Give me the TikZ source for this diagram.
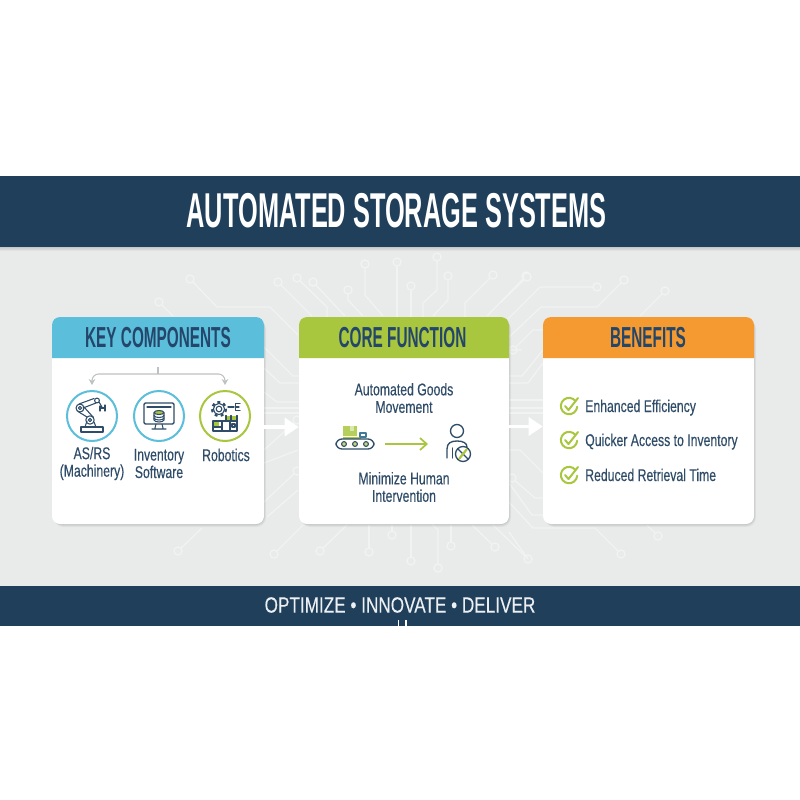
\documentclass[tikz,border=0pt]{standalone}
\usepackage{fontspec}
\usetikzlibrary{arrows.meta,calc}
\setmainfont{Liberation Sans}
\newfontfamily\titlef[FakeStretch=0.518]{Liberation Sans}
\newfontfamily\headf[FakeStretch=0.53]{Liberation Sans}
\newfontfamily\footf[FakeStretch=0.78,FakeBold=0.2]{Liberation Sans}
\newfontfamily\bodyf[FakeStretch=0.72,FakeBold=0.3]{Liberation Sans}
\definecolor{band}{HTML}{1F3F5B}
\definecolor{bgray}{HTML}{E9EAEA}
\definecolor{tracec}{HTML}{F1F2F2}
\definecolor{ink}{HTML}{24466A}
\definecolor{bodyink}{HTML}{2F4C68}
\definecolor{sky}{HTML}{5BBEDA}
\definecolor{lime}{HTML}{A9C63F}
\definecolor{amber}{HTML}{F59A30}
\definecolor{branchc}{HTML}{BDC1C2}
\def\px{0.75pt}
\tikzset{
  trace/.style={draw=tracec,line width=1pt,line join=round},
  cardbox/.style={fill=white,rounded corners=6pt,inner sep=0pt,minimum height=207*\px},
  head/.style={inner sep=0pt,text=ink,font=\headf\bfseries\fontsize{21.7}{24}\selectfont},
  bodytext/.style={inner sep=0pt,text=bodyink,align=center,font=\bodyf\fontsize{12.75}{13.1}\selectfont},
  benefit/.style={inner sep=0pt,text=bodyink,anchor=base west,font=\bodyf\fontsize{12.75}{13.1}\selectfont},
  ring/.style={circle,fill=white,inner sep=0pt,minimum size=50*\px,line width=1.5pt},
  flowarrow/.style={draw=white,line width=2.4pt,-{Triangle[length=10.5pt,width=13.5pt,fill=white]}},
  branchstem/.style={draw=branchc,line width=0.8pt},
  branch/.style={draw=branchc,line width=0.8pt,rounded corners=5pt,-{Stealth[length=4.5pt,width=5pt]}},
  iconline/.style={draw=bodyink,line width=0.8pt,line join=round,line cap=round},
  checkring/.style={draw=lime,line width=1.5pt,line cap=round},
}
\newcommand\tp[2]{\draw[trace] (#1) #2; \draw[trace,fill=bgray] (#1) circle[radius=4];}
\newcommand\softshadow[4]{%
  \foreach \o/\a in {3/.035,2/.05,1/.07}{
    \fill[black,opacity=\a,rounded corners=7pt] (#1+\o*0.7,#2+\o) rectangle (#3+\o*0.7,#4+\o);}}
\newcommand\headerfill[5]{%
  \fill[#5] (#1,#4) [rounded corners=6pt] -- (#1,#2) -- (#3,#2) [sharp corners] -- (#3,#4) -- cycle;}
\newcommand\chk[1]{%
  \coordinate (k) at (569,#1);
  \draw[checkring] ($(k)+(6.5,-5)$) arc[start angle=-38,end angle=-360+5,radius=8.2];
  \draw[checkring,line join=round] ($(k)+(-4,0)$) -- ($(k)+(-0.5,4)$) -- ($(k)+(9,-8)$);}
\begin{document}
\begin{tikzpicture}[x=0.75pt,y=-0.75pt]
\useasboundingbox (0,0) rectangle (800,800);
\fill[white] (0,0) rectangle (800,800);
% ground
\fill[bgray] (0,247) rectangle (800,586);
\shade[top color=black!22,bottom color=bgray] (0,247) rectangle (800,251);
% circuit traces
\tp{278,282}{--(312,316)}
\tp{297,278}{--(327,307)--(327,317)}
\tp{313,282}{--(345,316)}
\tp{348,290}{--(348,300)--(363,316)}
\tp{365,264}{--(365,295)--(383,316)}
\tp{397,262}{--(397,317)}
\tp{411,286}{--(411,317)}
\tp{437,257}{--(437,290)--(423,303)--(423,317)}
\tp{448,276}{--(448,300)--(433,316)}
\tp{493,275}{--(465,303)--(465,317)}
\tp{526,276}{--(487,316)}
\tp{597,287}{--(540,287)--(508,319)}
\tp{624,280}{--(597,307)--(541,307)--(508,338)}
\tp{665,291}{--(640,316)}
\tp{527,277}{--(500,303)}
\tp{190,279}{--(217,307)--(270,307)--(298,335)}
\tp{159,302}{--(173,316)}
\tp{513,350}{--(533,330)--(543,330)}
\tp{297,471}{--(264,502)}
\tp{178,551}{--(202,528)}
\tp{274,554}{--(303,525)}
\tp{320,551}{--(347,525)}
\tp{369,552}{--(369,525)}
\tp{392,535}{--(392,525)}
\tp{411,561}{--(411,525)}
\tp{438,568}{--(438,530)--(432,524)}
\tp{451,546}{--(451,525)}
\tp{495,547}{--(472,525)}
\tp{528,559}{--(493,525)}
\tp{658,536}{--(647,525)}
\tp{621,554}{--(595,528)--(533,528)--(507,500)}
\tp{512,478}{--(535,498)--(543,498)}
\tp{297,420}{--(264,450)}
\draw[trace] (264,347)--(293,376)--(299,376);
\draw[trace] (264,368)--(280,383)--(299,383);
\draw[trace] (264,392)--(277,402)--(299,402);
\draw[trace] (264,408)--(299,408) (264,413)--(299,413);
\draw[trace] (264,463)--(298,450);
\draw[trace] (267,517)--(298,490);
\draw[trace] (509,350)--(522,350) (543,350)--(522,376)--(509,376);
\draw[trace] (543,363)--(528,383)--(509,383);
\draw[trace] (509,400)--(543,400) (509,408)--(543,408) (509,413)--(543,413);
\draw[trace] (509,450)--(520,450)--(543,473);
\draw[trace] (509,483)--(532,515)--(543,515);
\draw[trace] (509,532)--(528,559);
% bands
\fill[band] (0,176) rectangle (800,247);
\fill[band] (0,586) rectangle (800,626);
\node[inner sep=0pt,text=white,font=\titlef\bfseries\fontsize{36.7}{40}\selectfont] (title) at (396.5,210.5) {AUTOMATED STORAGE SYSTEMS};
\node[inner sep=0pt,text=white!92!band,font=\footf\fontsize{16.5}{18}\selectfont] (foot) at (400,605) {OPTIMIZE • INNOVATE • DELIVER};
\draw[white,line width=0.9pt] (398.3,620)--(398.3,626) (406,620)--(406,626);
% cards
\softshadow{52}{317}{264}{524}
\softshadow{299}{317}{509}{524}
\softshadow{543}{317}{754}{524}
\node[cardbox,minimum width=212*\px] (c1) at (158,420.5) {};
\node[cardbox,minimum width=210*\px] (c2) at (404,420.5) {};
\node[cardbox,minimum width=211*\px] (c3) at (648.5,420.5) {};
\headerfill{52}{317}{264}{358}{sky}
\headerfill{299}{317}{509}{358}{lime}
\headerfill{543}{317}{754}{358}{amber}
\node[head] (h1) at (158,337.5) {KEY COMPONENTS};
\node[head] (h2) at (402.5,337.5) {CORE FUNCTION};
\node[head] (h3) at (648,337.5) {BENEFITS};
% flow arrows
\draw[flowarrow] ($(c1.east)+(0,6.5)$) -- ($(c2.west)+(0,6.5)$);
\draw[flowarrow] ($(c2.east)+(0,6)$) -- ($(c3.west)+(0,6)$);
% key components
\node[ring,draw=sky] (i1) at (92,416) {};
\node[ring,draw=sky] (i2) at (159,416) {};
\node[ring,draw=lime] (i3) at (225,416) {};
\coordinate (bj) at (158,367);
\coordinate (bm) at (158,374);
\draw[branchstem] (bj) -- (bm);
\draw[branch] (bm) -| ($(i1.north)+(0,-5)$);
\draw[branch] (bm) -| ($(i3.north)+(0,-5)$);
% robot arm
\draw[iconline] (81,427) rectangle (103,432);
\draw[iconline] (85,427)--(87,421) (96,427)--(94,422);
\draw[iconline] (90,420) circle[radius=4.2] (90,420) circle[radius=1.6];
\draw[iconline] (80,408) circle[radius=4] (80,408) circle[radius=1.6];
\draw[iconline] (87,417)--(78,411.5) (93.5,417.5)--(83.5,406.5);
\draw[iconline] (79,404)--(94,398.5) (83,408)--(96,403);
\draw[iconline] (97,400.5) circle[radius=2.4];
\draw[iconline] (99,402)--(102,407);
\draw[iconline] (100,406)--(100,411) (105,405)--(105,411) (100,408)--(105,408);
% monitor
\draw[iconline,line width=1pt,rounded corners=1pt] (144,403) rectangle (174,424);
\draw[iconline] (147,407)--(171,407);
\draw[iconline] (156,424)--(155,428) (162,424)--(163,428) (152,429)--(166,429);
\draw[iconline,fill=white] (154,413) -- (154,420) arc[start angle=180,end angle=360,x radius=5,y radius=-2] -- (164,413);
\draw[iconline] (154,415.5) arc[start angle=180,end angle=360,x radius=5,y radius=-2];
\draw[iconline] (154,418) arc[start angle=180,end angle=360,x radius=5,y radius=-2];
\draw[iconline,fill=lime] (159,412.5) ellipse[x radius=5,y radius=2];
% gear and robotics
\draw[iconline] (219,409) circle[radius=5.6] (219,409) circle[radius=2.8];
\draw[draw=bodyink,line width=1.7pt,dash pattern=on 2.2pt off 2.4pt] (219,409) circle[radius=6.9];
\draw[iconline,line width=1pt] (228,407)--(234,407);
\draw[iconline] (240,403.5)--(235.5,403.5)--(235.5,410.5)--(240,410.5) (236,407)--(239,407);
\fill[lime] (226,415.5) rectangle (237,421);
\fill[lime] (213,421) rectangle (219,427);
\draw[iconline] (231,415.5)--(231,421) (226,415.5)--(226,421) (237,415.5)--(237,421);
\draw[iconline] (213,421) rectangle (237,431);
\draw[iconline] (222,421)--(222,431) (230,421)--(230,431) (213,427)--(222,427);
\draw[iconline,fill=lime!35] (232,424) rectangle (235,427);
% captions
\node[bodytext] (t1) at (92,463.5) {AS/RS\\(Machinery)};
\node[bodytext] (t2) at (159,463.5) {Inventory\\Software};
\node[bodytext] (t3) at (226,455) {Robotics};
% core
\node[bodytext] (t4) at (404,398) {Automated Goods\\Movement};
\node[bodytext] (t5) at (404,487) {Minimize Human\\Intervention};
% conveyor
\fill[lime!85!white] (343,426) rectangle (357,436);
\fill[white,opacity=.5] (350,426) rectangle (354,431);
\fill[lime] (343,436.5) rectangle (361,438.5);
\draw[iconline,draw=sky!40!bodyink] (360,433) rectangle (366,437);
\draw[iconline,line width=1pt,rounded corners=4.5pt] (336,439) rectangle (374,449);
\foreach \x in {344,355,366}{\draw[iconline,fill=lime!70!white] (\x,444) circle[radius=2.4];}
\coordinate (convend) at (385,444);
\coordinate (persstart) at (428,444);
\draw[draw=lime,line width=1.3pt,-{Straight Barb[length=5pt,width=9pt]}] (convend) -- (persstart);
% person
\draw[iconline,line width=1pt] (457,431) circle[radius=6.5];
\draw[iconline,line width=1pt] (447,458) -- (447,449) .. controls (447,443) and (451,441) .. (457,441) .. controls (463,441) and (467,443) .. (467,447);
\draw[iconline,line width=1pt] (452.5,448)--(452.5,458);
\draw[iconline,line width=1pt,fill=white] (463,454) circle[radius=7.5];
\draw[draw=bodyink,line width=0.9pt] (458,449)--(468,459);
\draw[draw=lime,line width=1.6pt] (467,449)--(459,459);
% benefits
\chk{406}\chk{440}\chk{475}
\node[benefit] (b1) at (585,412) {Enhanced Efficiency};
\node[benefit] (b2) at (585,446) {Quicker Access to Inventory};
\node[benefit] (b3) at (585,481) {Reduced Retrieval Time};
\end{tikzpicture}
\end{document}
